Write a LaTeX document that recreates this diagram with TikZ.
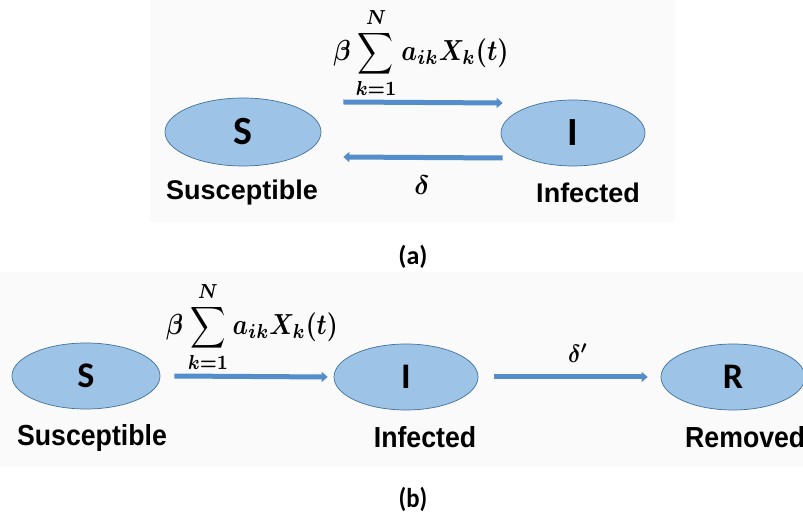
\documentclass[tikz,border=0pt]{standalone}
\usepackage{fontspec}
\usetikzlibrary{shapes.geometric,arrows.meta}
\newfontfamily\labfont{Liberation Sans}
\newfontfamily\carl{Carlito}
\definecolor{ellfill}{RGB}{157,195,230}
\definecolor{ellline}{RGB}{65,113,156}
\definecolor{arrblue}{RGB}{84,141,204}
\definecolor{panelgray}{RGB}{250,250,250}
\newsavebox\formboxA
\newsavebox\deltaboxA
\newsavebox\deltaboxB
\tikzset{
  sirnode/.style={ellipse, draw=ellline, line width=0.7pt, fill=ellfill, inner sep=0pt,
    font=\carl\bfseries\fontsize{40}{42}\selectfont},
  sirnodeb/.style={sirnode, font=\carl\bfseries\fontsize{36}{38}\selectfont},
  blockarrow/.style={draw=arrblue, line width=5pt, -{Triangle[width=10pt,length=6pt]}},
  labA/.style={font=\labfont\bfseries\fontsize{27}{30}\selectfont, inner sep=0pt},
  labB/.style={font=\labfont\bfseries\fontsize{29}{32}\selectfont, inner sep=0pt},
  captext/.style={font=\carl\bfseries\fontsize{26}{28}\selectfont, inner sep=0pt},
  ratetext/.style={inner sep=0pt}
}
\begin{document}
\sbox\formboxA{\scalebox{2.5}[2.9]{\boldmath$\displaystyle \beta\sum_{k=1}^{N} a_{ik}X_k(t)$}}%
\sbox\deltaboxA{\scalebox{2.7}{\boldmath$\delta$}}%
\sbox\deltaboxB{\scalebox{2.5}{\boldmath$\delta'$}}%
\begin{tikzpicture}[x=1pt,y=-1pt]
\useasboundingbox (0,0) rectangle (803,518);
\clip (0,0) rectangle (803,518);
\fill[white] (0,0) rectangle (803,518);
% panels
\fill[panelgray] (150,0) rectangle (675,222);
\fill[panelgray] (0,272) rectangle (803,467);
% ---- (a) ----
\node[sirnode, minimum width=156pt, minimum height=68pt] (Sa) at (243,132) {S};
\node[sirnode, minimum width=144pt, minimum height=66pt] (Ia) at (573,133) {I};
\draw[blockarrow] ([shift={(22pt,30pt)}]Sa.east) -- ([shift={(2pt,30pt)}]Ia.west);
\draw[blockarrow] ([shift={(2pt,-25pt)}]Ia.west) -- ([shift={(22pt,-25pt)}]Sa.east);
\node[ratetext] (fa) at (421,53) {\usebox\formboxA};
\node[ratetext] (da) at (422,185) {\usebox\deltaboxA};
\node[labA] (lSa) at (242,193) {Susceptible};
\node[labA] (lIa) at (588,193) {Infected};
\node[captext] (capa) at (413,257) {(a)};
% ---- (b) ----
\node[sirnodeb, minimum width=148pt, minimum height=66pt] (Sb) at (86,376) {S};
\node[sirnodeb, minimum width=144pt, minimum height=66pt] (Ib) at (406,377) {I};
\node[sirnodeb, minimum width=144pt, minimum height=66pt] (Rb) at (733,377) {R};
\draw[blockarrow] ([xshift=14pt]Sb.east) -- ([xshift=-6pt]Ib.west);
\draw[blockarrow] ([xshift=16pt]Ib.east) -- ([xshift=-13pt]Rb.west);
\node[ratetext] (fb) at (252,327) {\scalebox{0.98}[1]{\usebox\formboxA}};
\node[ratetext] (db) at (578,353) {\scalebox{0.9}[1]{\usebox\deltaboxB}};
\node[labB] (lSb) at (92,438) {\scalebox{0.92}[1]{Susceptible}};
\node[labB] (lIb) at (425,437) {\scalebox{0.92}[1]{Infected}};
\node[labB, anchor=west] (lRb) at (685,437) {\scalebox{0.92}[1]{Removed}};
\node[captext] (capb) at (413,499) {\scalebox{0.95}[1.05]{(b)}};
\end{tikzpicture}
\end{document}
